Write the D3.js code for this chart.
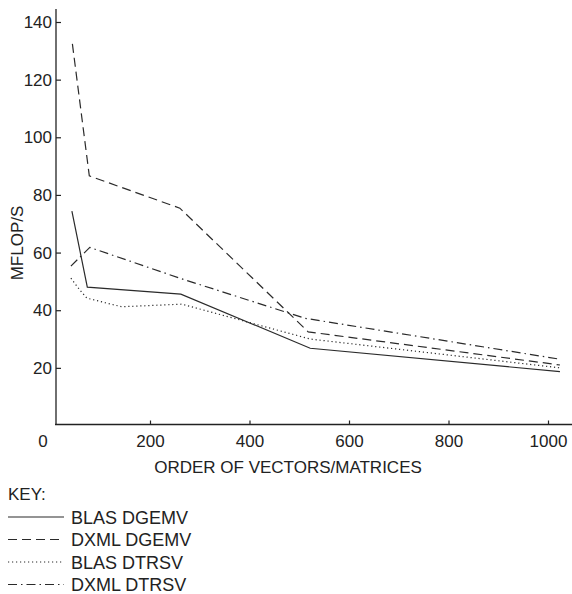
<!DOCTYPE html>
<html>
<head>
<meta charset="utf-8">
<script src="https://cdn.jsdelivr.net/npm/d3@7"></script>
<style>
  body { margin: 0; background: #fff; }
  svg { display: block; }
  text { font-family: "Liberation Sans", Arial, sans-serif; fill: #222; }
</style>
</head>
<body>
<svg id="chart"></svg>
<script>
const width = 572;
const height = 594;

// order of vectors/matrices vs MFLOP/S
const blasDgemvN = [43, 74, 262, 522, 1024];
const blasDgemvMflops = [74.4, 48.0, 45.6, 26.8, 18.7];

const dxmlDgemvN = [44, 78, 260, 518, 1024];
const dxmlDgemvMflops = [132.4, 86.6, 75.4, 32.5, 21.0];

const blasDtrsvN = [41, 59, 73, 110, 143, 264, 522, 1024];
const blasDtrsvMflops = [51.1, 47.0, 44.2, 42.6, 41.2, 42.1, 30.0, 20.0];

const dxmlDtrsvN = [41, 79, 260, 512, 1024];
const dxmlDtrsvMflops = [55.3, 61.8, 51.1, 37.2, 23.0];

const seriesNames = ["BLAS DGEMV", "DXML DGEMV", "BLAS DTRSV", "DXML DTRSV"];
const xTicks = [0, 200, 400, 600, 800, 1000];
const yTicks = [20, 40, 60, 80, 100, 120, 140];

const series = [
    {name: seriesNames[0], n: blasDgemvN, v: blasDgemvMflops, dash: null},
    {name: seriesNames[1], n: dxmlDgemvN, v: dxmlDgemvMflops, dash: "9,5"},
    {name: seriesNames[2], n: blasDtrsvN, v: blasDtrsvMflops, dash: "1.2,2.8"},
    {name: seriesNames[3], n: dxmlDtrsvN, v: dxmlDtrsvMflops, dash: "9,4,1.5,4"}
];

const x = d3.scaleLinear().domain([0, 1000]).range([50.5, 548]);
const y = d3.scaleLinear().domain([0, 140]).range([425.5, 22]);

const svg = d3.select("#chart")
    .attr("width", width)
    .attr("height", height);

// axes lines
svg.append("line")
    .attr("x1", 56).attr("x2", 56)
    .attr("y1", 9).attr("y2", 424.5)
    .attr("stroke", "#222").attr("stroke-width", 1.3);

svg.append("line")
    .attr("x1", 55).attr("x2", 572)
    .attr("y1", 424.5).attr("y2", 424.5)
    .attr("stroke", "#222").attr("stroke-width", 1.3);

// y axis ticks (pointing inward)
const yAxis = svg.append("g")
    .attr("transform", "translate(56,0)")
    .call(d3.axisRight(y).tickValues(yTicks).tickSizeInner(5).tickSizeOuter(0));
yAxis.select(".domain").remove();
yAxis.selectAll(".tick line").attr("stroke", "#222").attr("stroke-width", 1.2);
yAxis.selectAll(".tick text")
    .attr("x", -4)
    .attr("text-anchor", "end")
    .style("font-size", "17px")
    .style("font-family", "Liberation Sans, Arial, sans-serif")
    .attr("fill", "#222");

// x axis ticks (pointing up)
const xAxis = svg.append("g")
    .attr("transform", "translate(0,424.5)")
    .call(d3.axisBottom(x).tickValues(xTicks).tickFormat(d3.format("d"))
        .tickSizeInner(-4).tickSizeOuter(0).tickPadding(10));
xAxis.select(".domain").remove();
xAxis.selectAll(".tick line")
    .attr("stroke", "#222").attr("stroke-width", 1.2)
    .attr("opacity", d => d === 0 ? 0 : 1);
xAxis.selectAll(".tick text")
    .style("font-size", "17px")
    .style("font-family", "Liberation Sans, Arial, sans-serif")
    .attr("fill", "#222")
    .attr("dx", d => d === 0 ? -8 : 0);

// axis titles
svg.append("text")
    .attr("x", 288).attr("y", 473)
    .attr("text-anchor", "middle")
    .style("font-size", "17px")
    .text("ORDER OF VECTORS/MATRICES");

svg.append("text")
    .attr("transform", "translate(23,243) rotate(-90)")
    .attr("text-anchor", "middle")
    .style("font-size", "17px")
    .text("MFLOP/S");

// lines
const lineGen = d3.line()
    .x(d => x(d[0]))
    .y(d => y(d[1]));

svg.append("g")
    .selectAll("path")
    .data(series)
    .enter()
    .append("path")
        .attr("d", d => lineGen(d3.zip(d.n, d.v)))
        .attr("fill", "none")
        .attr("stroke", "#2a2a2a")
        .attr("stroke-width", 1.2)
        .attr("stroke-dasharray", d => d.dash);

// key
svg.append("text")
    .attr("x", 8).attr("y", 500)
    .style("font-size", "17px")
    .text("KEY:");

const key = svg.append("g")
    .selectAll("g")
    .data(series)
    .enter()
    .append("g")
        .attr("transform", (d, i) => `translate(0,${517 + i * 22.5})`);

key.append("line")
    .attr("x1", 8).attr("x2", 64)
    .attr("y1", 0).attr("y2", 0)
    .attr("stroke", "#2a2a2a")
    .attr("stroke-width", 1.2)
    .attr("stroke-dasharray", d => d.dash);

key.append("text")
    .attr("x", 71).attr("y", 6.5)
    .style("font-size", "18px")
    .text(d => d.name);
</script>
</body>
</html>
